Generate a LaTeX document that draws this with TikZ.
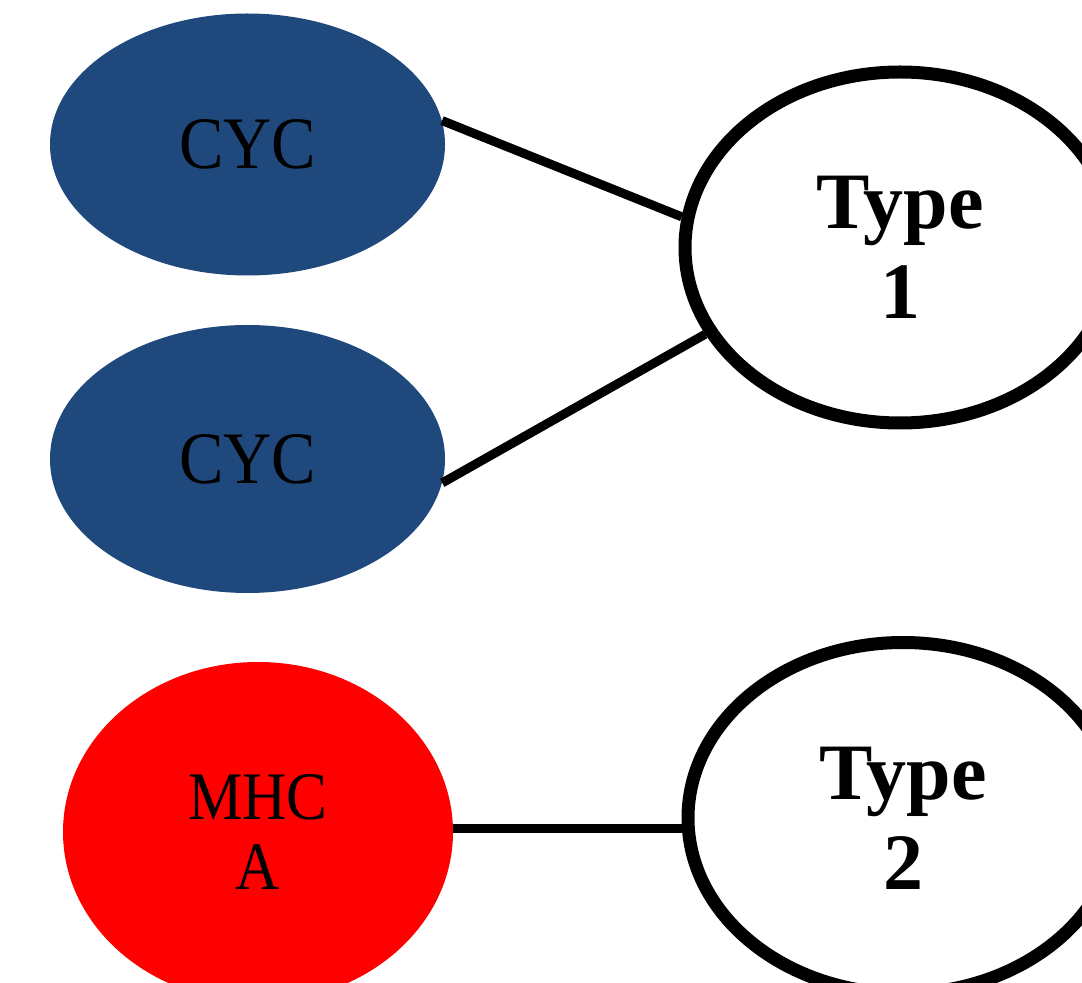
\documentclass[tikz,border=0pt]{standalone}
\usepackage{fontspec}
\setmainfont{Liberation Serif}
\newfontfamily\narrowserif[FakeStretch=0.9]{Liberation Serif}
\usetikzlibrary{shapes.geometric}
\definecolor{cycblue}{RGB}{31,73,125}
\definecolor{mhcred}{RGB}{255,0,0}
\tikzset{
  cycnode/.style={ellipse, fill=cycblue, draw=none, inner sep=0pt,
    minimum width=197.5pt, font=\narrowserif\fontsize{37}{40}\selectfont, text=black},
  mhcnode/.style={ellipse, fill=mhcred, draw=none, inner sep=0pt, align=center,
    minimum width=195pt, minimum height=170pt, font=\narrowserif\fontsize{34}{35}\selectfont, text=black},
  typenode/.style={ellipse, draw=black, fill=white, line width=6.5pt, inner sep=0pt, align=center,
    minimum width=215pt, minimum height=175.5pt, font=\fontsize{40}{45}\selectfont\bfseries},
  link/.style={draw=black, line width=4.5pt}
}
\begin{document}
\begin{tikzpicture}[x=0.5pt, y=-0.5pt]
\clip (0,0) rectangle (1082,983);
\fill[white] (0,0) rectangle (1082,983);
\node[cycnode, minimum height=131pt] (c1) at (247.5,144.5) {CYC};
\node[cycnode, minimum height=134pt] (c2) at (247.5,459) {CYC};
\node[mhcnode] (m) at (258,832) {MHC\\A};
\node[typenode] (t1) at (900,247.5) {Type\\1};
\node[typenode] (t2) at (903,818) {Type\\2};
\draw[link] (c1.7) -- (t1.172);
\draw[link] (c2.-7) -- (t1.-156);
\draw[link] (m.1) -- (m.1 -| t2.west);
\end{tikzpicture}
\end{document}
